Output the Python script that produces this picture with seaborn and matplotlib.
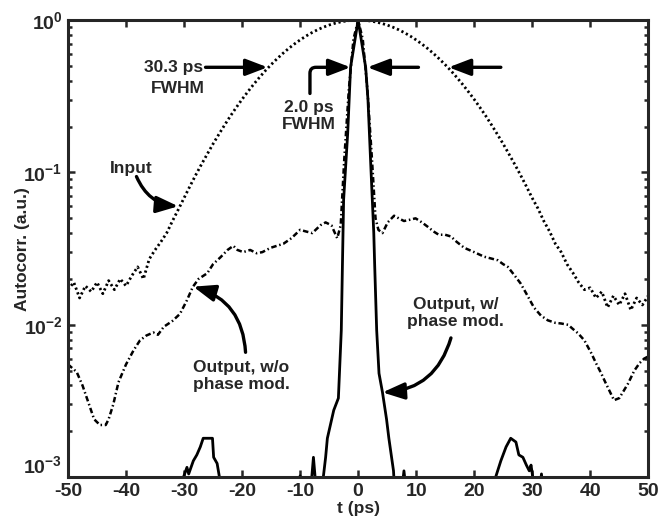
import numpy as np
import pandas as pd
import seaborn as sns
import matplotlib.pyplot as plt

sns.set_theme(style="ticks")
plt.rcParams['font.family'] = ['Liberation Sans', 'DejaVu Sans']
plt.rcParams['font.weight'] = 'bold'
plt.rcParams['mathtext.fontset'] = 'custom'
plt.rcParams['mathtext.rm'] = 'Liberation Sans:bold'
plt.rcParams['mathtext.bf'] = 'Liberation Sans:bold'

# Input pulse (dotted), read every 1 ps
t_input = list(range(-50, 51))
y_input = [0.017, 0.019, 0.015, 0.018, 0.0165, 0.019, 0.016, 0.0195, 0.017, 0.020,
           0.018, 0.021, 0.024, 0.020, 0.027, 0.031, 0.035, 0.040, 0.048, 0.057,
           0.068, 0.081, 0.096, 0.113, 0.132, 0.154, 0.178, 0.205, 0.235, 0.267,
           0.302, 0.339, 0.379, 0.421, 0.465, 0.510, 0.556, 0.603, 0.650, 0.696,
           0.741, 0.785, 0.826, 0.864, 0.898, 0.928, 0.953, 0.973, 0.988, 0.997,
           1.0,
           0.997, 0.988, 0.973, 0.953, 0.928, 0.898, 0.864, 0.826, 0.785, 0.741,
           0.696, 0.650, 0.603, 0.556, 0.510, 0.465, 0.421, 0.379, 0.339, 0.302,
           0.267, 0.235, 0.205, 0.178, 0.154, 0.132, 0.113, 0.096, 0.081, 0.068,
           0.058, 0.048, 0.041, 0.034, 0.030, 0.025, 0.022, 0.019, 0.017, 0.0175,
           0.015, 0.0165, 0.013, 0.0155, 0.0135, 0.016, 0.0125, 0.015, 0.0135, 0.0155]

# Output without phase modulation (dash-dot)
t_nopm = [-50, -48.5, -47.5, -46.5, -45.5, -44.5, -43.5, -43, -42.2, -41.3,
          -40, -38.7, -37.6, -36.5, -35.3, -34.5, -33.5, -32, -30.7, -29.5,
          -28.5, -27.5, -26, -25, -23.7, -22.5, -21.5, -20.8, -19.8, -18.6,
          -17.5, -16.5, -15.1, -14, -12.9, -11.5, -10, -9, -7.9, -6.5,
          -5.6, -4.6, -3.6, -3, -2.4, -1.6, -0.8, 0, 0.8, 1.6,
          2.4, 3, 3.5, 4.2, 5.1, 6.2, 7, 7.9, 9, 9.9,
          11, 12, 13, 13.9, 15, 16, 17, 18.3, 20, 21.7,
          23, 24.1, 25, 25.8, 27, 28, 29, 30.3, 31.5, 32.7,
          34, 35, 36.2, 37, 37.9, 39, 40.2, 41, 41.9, 42.6,
          43.3, 44.1, 45, 45.8, 46.5, 47.6, 48.5, 49.3, 50]
y_nopm = [0.0055, 0.0049, 0.0040, 0.0031, 0.0024, 0.0022, 0.0022, 0.0024, 0.0030, 0.0042,
          0.0055, 0.0068, 0.0079, 0.0085, 0.0089, 0.0086, 0.0097, 0.0106, 0.0118, 0.0145,
          0.0177, 0.020, 0.0218, 0.025, 0.0278, 0.031, 0.033, 0.031, 0.030, 0.031,
          0.0295, 0.030, 0.032, 0.033, 0.034, 0.037, 0.042, 0.041, 0.040, 0.045,
          0.047, 0.045, 0.037, 0.045, 0.12, 0.35, 0.75, 1.0, 0.75, 0.35,
          0.12, 0.05, 0.042, 0.040, 0.047, 0.052, 0.050, 0.048, 0.049, 0.050,
          0.047, 0.044, 0.041, 0.039, 0.039, 0.038, 0.035, 0.032, 0.030, 0.028,
          0.0272, 0.0265, 0.025, 0.024, 0.021, 0.0187, 0.016, 0.013, 0.0115, 0.0107,
          0.0103, 0.0102, 0.0100, 0.0094, 0.0088, 0.0079, 0.0065, 0.0056, 0.0048, 0.0042,
          0.0037, 0.0032, 0.0033, 0.0037, 0.0041, 0.0050, 0.0056, 0.0060, 0.0062]

# Output with phase modulation (solid)
t_pm = [-50, -30.5, -30.1, -29.5, -29.2, -28.4, -27.8, -27.2, -26.7, -25.1,
        -24.9, -24.3, -23.9, -23.5, -10.3, -10, -9.7, -8.2, -7.7, -7.2,
        -6.2, -6, -5.6, -5.3, -4.2, -3.4, -2.9, -2.7, -2.5, -1.8,
        -1.3, 0, 1.3, 1.7, 2.2, 2.7, 2.85, 3.2, 3.6, 4.2,
        4.9, 5.3, 6.1, 6.3, 7.5, 7.9, 8.3, 23.5, 23.7, 24.6,
        25.5, 26.3, 27.2, 27.7, 28.4, 29, 29.5, 29.8, 30.1, 30.5,
        31.3, 31.6, 31.9, 50]
y_pm = [0.0008, 0.0008, 0.001, 0.00116, 0.00105, 0.00128, 0.0014, 0.00158, 0.0018, 0.0018,
        0.00135, 0.00123, 0.001, 0.0008, 0.0008, 0.00102, 0.0008, 0.0008, 0.00135, 0.0008,
        0.0008, 0.001, 0.00135, 0.0018, 0.00275, 0.0033, 0.0092, 0.025, 0.066, 0.18,
        0.49, 1.0, 0.49, 0.30, 0.108, 0.040, 0.025, 0.0092, 0.0048, 0.0036,
        0.0024, 0.0018, 0.0011, 0.0008, 0.0008, 0.0011, 0.0008, 0.0008, 0.001, 0.00128,
        0.00158, 0.0018, 0.0017, 0.0014, 0.00135, 0.0012, 0.0011, 0.0012, 0.001, 0.0008,
        0.0008, 0.00105, 0.0008, 0.0008]

fig = plt.figure(figsize=(6.7, 5.29), dpi=100)
ax = fig.add_axes([0.1015, 0.098, 0.866, 0.864])

sns.lineplot(x=t_input, y=y_input, ax=ax, color='black', lw=2.0,
             linestyle=(0, (0.8, 1.0)), sort=False)
sns.lineplot(x=t_nopm, y=y_nopm, ax=ax, color='black', lw=1.8,
             linestyle=(0, (2.2, 1.1, 0.6, 1.1)), sort=False)
sns.lineplot(x=t_pm, y=y_pm, ax=ax, color='black', lw=2.0, sort=False)

ax.set_yscale('log')
ax.set_xlim(-50, 50)
ax.set_ylim(1e-3, 1)
ax.set_xticks(range(-50, 51, 10))
ax.set_xticklabels([str(v) for v in range(-50, 51, 10)], fontsize=14, fontweight='bold')
ax.set_yticks([1e-3, 1e-2, 1e-1, 1])
ylabs = ax.set_yticklabels([r'$\mathbf{10^{-3}}$', r'$\mathbf{10^{-2}}$',
                            r'$\mathbf{10^{-1}}$', r'$\mathbf{10^{0}}$'], fontsize=14)
ylabs[0].set_va('bottom')
ax.tick_params(which='both', direction='in', top=True, right=True, width=1.8)
ax.tick_params(which='major', length=5, pad=4)
ax.tick_params(which='minor', length=3)
ax.minorticks_on()
ax.xaxis.set_minor_locator(plt.NullLocator())
for s in ax.spines.values():
    s.set_linewidth(2.2)
    s.set_visible(True)

ax.set_xlabel('t (ps)', fontsize=12.5, fontweight='bold', labelpad=1)
ax.set_ylabel('Autocorr. (a.u.)', fontsize=12.5, fontweight='bold', labelpad=-5)

tf = dict(fontsize=12.5, fontweight='bold', ha='center', va='center')
arrow = dict(arrowstyle='-|>,head_length=1.1,head_width=0.42', color='black', lw=2.4,
             shrinkA=0, shrinkB=0)

# 30.3 ps FWHM
ax.annotate('', xy=(-15.6, 0.49), xytext=(-26.3, 0.49), arrowprops=arrow)
ax.annotate('', xy=(15.6, 0.49), xytext=(24.6, 0.49), arrowprops=arrow)
ax.text(-31.8, 0.49, '30.3 ps', **tf)
ax.text(-31.0, 0.358, 'FWHM', **tf)

# 2.0 ps FWHM
ax.annotate('', xy=(-1.3, 0.49), xytext=(-8.3, 0.33),
            arrowprops=dict(arrow, connectionstyle='angle,angleA=90,angleB=0,rad=6'))
ax.annotate('', xy=(1.6, 0.49), xytext=(10.4, 0.49), arrowprops=arrow)
ax.text(-8.5, 0.268, '2.0 ps', **tf)
ax.text(-8.5, 0.205, 'FWHM', **tf)

# curve labels
ax.text(-39.1, 0.106, 'Input', **tf)
ax.annotate('', xy=(-31.0, 0.060), xytext=(-38.2, 0.094),
            arrowprops=dict(arrow, connectionstyle='arc3,rad=0.3'))

ax.text(-20.1, 0.0046, 'Output, w/o\nphase mod.', linespacing=1.15, **tf)
ax.annotate('', xy=(-28.4, 0.0178), xytext=(-19.4, 0.0066),
            arrowprops=dict(arrow, connectionstyle='arc3,rad=0.35'))

ax.text(16.8, 0.0119, 'Output, w/\nphase mod.', linespacing=1.15, **tf)
ax.annotate('', xy=(4.2, 0.0036), xytext=(16.0, 0.0082),
            arrowprops=dict(arrow, connectionstyle='arc3,rad=-0.35'))

fig.savefig('out.png', dpi=100)
